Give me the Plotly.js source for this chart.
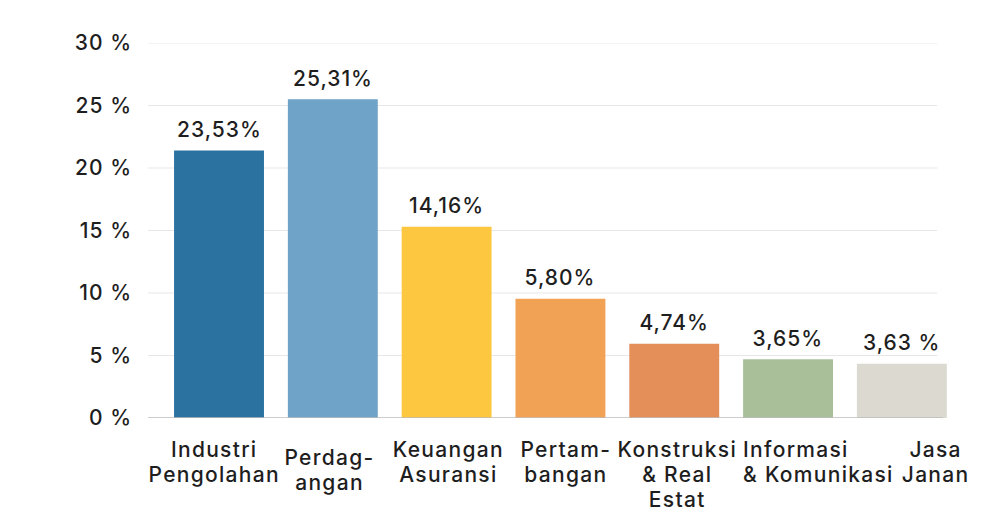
<!DOCTYPE html>
<html>
<head>
<meta charset="utf-8">
<script src="https://cdn.plot.ly/plotly-3.0.1.min.js"></script>
<style>
html,body{margin:0;padding:0;background:#fff;}
#chart{width:997px;height:510px;}
#chart text{letter-spacing:1px;}
#chart .annotation.cat text{letter-spacing:1.3px;}
</style>
</head>
<body>
<div id="chart"></div>
<script>
// Data
const categories = ["Industri<br>Pengolahan", "Perdag-<br>angan", "Keuangan<br>Asuransi", "Pertam-<br>bangan", "Konstruksi<br>& Real<br>Estat", "Informasi<br>& Komunikasi", "Jasa<br>Janan"];
const barValues = [21.4, 25.5, 15.3, 9.55, 5.95, 4.7, 4.35];
const barLabels = ["23,53%", "25,31%", "14,16%", "5,80%", "4,74%", "3,65%", "3,63 %"];
const barColors = ["#2B72A0", "#6FA3C7", "#FDC73F", "#F2A254", "#E48F59", "#A8BF99", "#DCDAD0"];
const yTickVals = [0, 5, 10, 15, 20, 25, 30];
const yTickText = ["0 %", "5 %", "10 %", "15 %", "20 %", "25 %", "30 %"];

// Label placement styling (anchors and pixel offsets of the category labels)
const catAnchor = ["center", "center", "center", "center", "center", "left", "center"];
const catXShift = [-5, -3, 2, 6, 3, -47, 34];
const catYShift = [0, -8, 0, 0, 0, 0, 0];

const idx = categories.map((_, i) => i);
const FONT = "Inter, 'Noto Sans', sans-serif";
const TXT = "#1E1E1E";

const shapes = yTickVals.filter(v => v > 0).map(v => ({
  type: "line", xref: "paper", yref: "y", x0: 0, x1: 0.984, y0: v, y1: v,
  line: {color: "#E7E7E7", width: 1.2}, layer: "below"
}));
shapes.push({type: "line", xref: "paper", yref: "y", x0: 0, x1: 0.991, y0: 0, y1: 0,
  line: {color: "#BDBDBD", width: 1.6}, layer: "above"});

const annotations = idx.map(i => ({
  x: i, y: barValues[i], xref: "x", yref: "y", text: barLabels[i],
  showarrow: false, yanchor: "bottom", yshift: 6.5,
  font: {family: FONT, size: 21, color: TXT, weight: 500}
})).concat(idx.map(i => ({
  x: i, y: 0, xref: "x", yref: "paper", text: categories[i],
  showarrow: false, yanchor: "top", xanchor: catAnchor[i], align: catAnchor[i],
  xshift: catXShift[i], yshift: -17 + catYShift[i],
  font: {family: FONT, size: 21, color: TXT, weight: 500}
})));

const trace = {
  type: "bar", x: idx, y: barValues,
  marker: {color: barColors, line: {width: 0}},
  width: 0.79, hoverinfo: "none"
};

const layout = {
  width: 997, height: 510,
  margin: {l: 148, r: 47, t: 43, b: 91.5},
  paper_bgcolor: "#FFFFFF", plot_bgcolor: "#FFFFFF",
  showlegend: false,
  font: {family: FONT, size: 21, color: TXT},
  xaxis: {
    range: [-0.624, 6.423], tickmode: "array", tickvals: idx,
    showgrid: false, zeroline: false, showline: false, ticks: "", showticklabels: false,
    fixedrange: true
  },
  yaxis: {
    range: [0, 30], tickmode: "array", tickvals: yTickVals, ticktext: yTickText,
    showgrid: false, zeroline: false, showline: false, ticks: "", ticklabelstandoff: 15,
    tickfont: {family: FONT, size: 21, color: TXT, weight: 500}, fixedrange: true
  },
  shapes: shapes,
  annotations: annotations
};

Plotly.newPlot("chart", [trace], layout, {displayModeBar: false, staticPlot: true}).then(gd => {
  // mark category annotations and tighten their line spacing (25px per line)
  const anns = gd.querySelectorAll(".annotation");
  anns.forEach((a, k) => {
    if (k >= barLabels.length) {
      a.classList.add("cat");
      a.querySelectorAll("tspan.line").forEach((t, j) => { t.setAttribute("dy", (j * 25) + "px"); });
    }
  });
});
</script>
</body>
</html>
